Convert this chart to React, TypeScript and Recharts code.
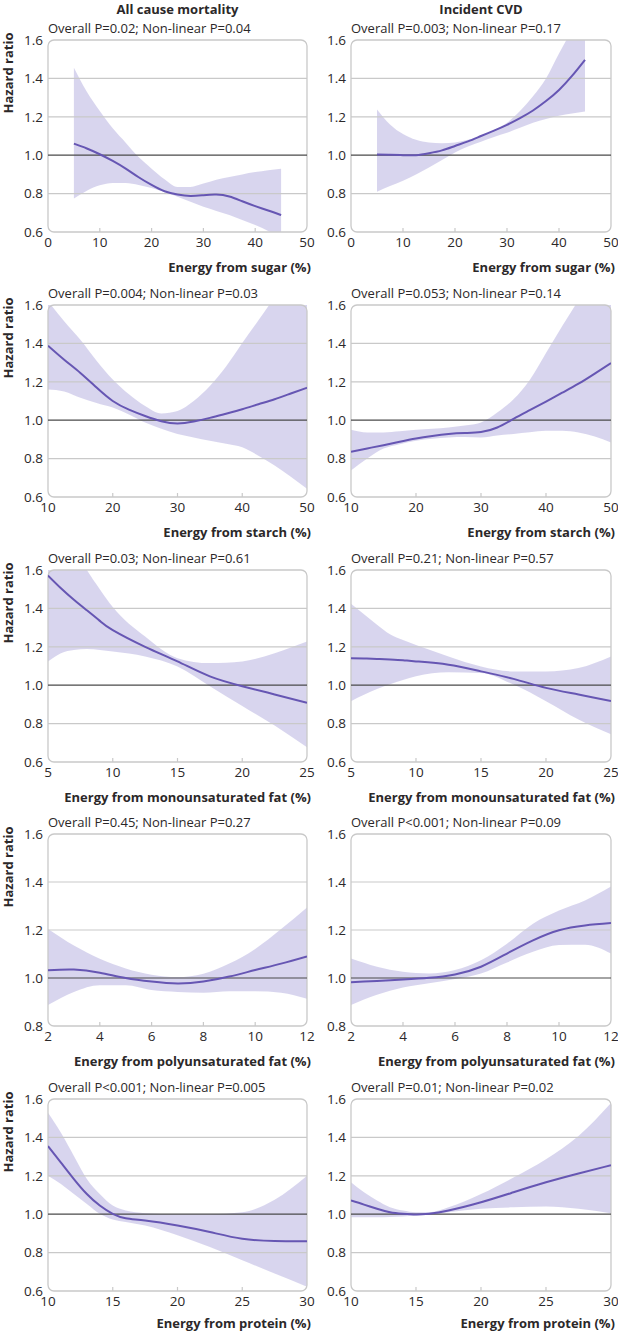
import { ComposedChart, Area, Line, XAxis, YAxis, ReferenceLine, ReferenceArea } from 'recharts';

// shared x grids (energy %)
const sugarX = [5, 7.5, 10, 12.5, 15, 17.5, 20, 22.5, 25, 27.5, 30, 32.5, 35, 37.5, 40, 42.5, 45];
const starchX = [10, 12.5, 15, 17.5, 20, 22.5, 25, 27.5, 30, 32.5, 35, 37.5, 40, 42.5, 45, 47.5, 50];
const mufaX = [5, 6, 7, 8, 9, 10, 12.5, 15, 17.5, 20, 22.5, 25];
const pufaX = [2, 3, 4, 5, 6, 7, 8, 9, 10, 11, 12];
const proteinX = [10, 11, 12, 13, 14, 15, 16, 17.5, 20, 22.5, 25, 27.5, 30];

// all cause mortality
const mortSugarHr = [1.06, 1.035, 1.005, 0.97, 0.93, 0.885, 0.845, 0.812, 0.795, 0.788, 0.792, 0.795, 0.785, 0.76, 0.735, 0.712, 0.688];
const mortSugarLo = [0.774, 0.815, 0.843, 0.855, 0.855, 0.845, 0.829, 0.808, 0.783, 0.757, 0.731, 0.71, 0.688, 0.662, 0.636, 0.605, 0.57];
const mortSugarHi = [1.455, 1.33, 1.23, 1.14, 1.065, 0.99, 0.93, 0.875, 0.835, 0.835, 0.852, 0.872, 0.886, 0.9, 0.912, 0.922, 0.93];

const mortStarchHr = [1.388, 1.315, 1.246, 1.17, 1.1, 1.055, 1.022, 0.995, 0.983, 0.993, 1.012, 1.034, 1.057, 1.083, 1.109, 1.139, 1.169];
const mortStarchLo = [1.16, 1.15, 1.117, 1.09, 1.066, 1.03, 0.988, 0.955, 0.928, 0.91, 0.893, 0.877, 0.859, 0.815, 0.764, 0.705, 0.643];
const mortStarchHi = [1.62, 1.515, 1.419, 1.31, 1.212, 1.135, 1.074, 1.035, 1.048, 1.1, 1.178, 1.28, 1.402, 1.52, 1.643, 1.78, 1.92];

const mortMufaHr = [1.571, 1.505, 1.445, 1.39, 1.335, 1.287, 1.2, 1.124, 1.046, 0.995, 0.952, 0.909];
const mortMufaLo = [1.124, 1.167, 1.183, 1.188, 1.183, 1.175, 1.15, 1.098, 0.995, 0.892, 0.79, 0.677];
const mortMufaHi = [1.95, 1.82, 1.72, 1.6, 1.5, 1.407, 1.253, 1.141, 1.115, 1.124, 1.167, 1.227];

const mortPufaHr = [1.032, 1.035, 1.022, 1.0, 0.985, 0.977, 0.985, 1.006, 1.033, 1.06, 1.09];
const mortPufaLo = [0.887, 0.942, 0.97, 0.97, 0.95, 0.942, 0.939, 0.945, 0.945, 0.939, 0.914];
const mortPufaHi = [1.204, 1.135, 1.08, 1.04, 1.014, 1.004, 1.018, 1.06, 1.121, 1.204, 1.294];

const mortProteinHr = [1.355, 1.269, 1.183, 1.105, 1.045, 1.002, 0.979, 0.967, 0.941, 0.907, 0.872, 0.86, 0.859];
const mortProteinLo = [1.2, 1.157, 1.105, 1.053, 1.002, 0.972, 0.959, 0.941, 0.89, 0.829, 0.76, 0.691, 0.622];
const mortProteinHi = [1.528, 1.424, 1.303, 1.183, 1.105, 1.045, 1.019, 1.005, 1.0, 1.0, 1.01, 1.075, 1.2];

// incident CVD
const cvdSugarHr = [1.003, 1.002, 1.0, 1.0, 1.01, 1.025, 1.048, 1.072, 1.1, 1.128, 1.158, 1.193, 1.233, 1.282, 1.34, 1.413, 1.497];
const cvdSugarLo = [0.81, 0.84, 0.867, 0.9, 0.936, 0.975, 1.014, 1.045, 1.07, 1.095, 1.117, 1.143, 1.169, 1.188, 1.205, 1.217, 1.228];
const cvdSugarHi = [1.238, 1.16, 1.11, 1.08, 1.066, 1.062, 1.066, 1.08, 1.1, 1.13, 1.169, 1.23, 1.307, 1.4, 1.53, 1.65, 1.75];

const cvdStarchHr = [0.836, 0.853, 0.87, 0.888, 0.905, 0.918, 0.928, 0.933, 0.938, 0.962, 1.007, 1.052, 1.097, 1.143, 1.19, 1.243, 1.298];
const cvdStarchLo = [0.738, 0.8, 0.852, 0.875, 0.893, 0.903, 0.91, 0.912, 0.91, 0.92, 0.928, 0.937, 0.945, 0.945, 0.936, 0.915, 0.884];
const cvdStarchHi = [0.95, 0.936, 0.936, 0.942, 0.95, 0.956, 0.962, 0.972, 0.988, 1.04, 1.109, 1.21, 1.35, 1.49, 1.626, 1.77, 1.92];

const cvdMufaHr = [1.141, 1.139, 1.137, 1.134, 1.13, 1.124, 1.107, 1.072, 1.033, 0.986, 0.952, 0.917];
const cvdMufaLo = [0.917, 0.95, 0.98, 1.005, 1.027, 1.046, 1.067, 1.064, 1.003, 0.917, 0.822, 0.745];
const cvdMufaHi = [1.424, 1.37, 1.315, 1.265, 1.235, 1.209, 1.15, 1.098, 1.072, 1.072, 1.09, 1.15];

const cvdPufaHr = [0.982, 0.988, 0.994, 1.001, 1.015, 1.047, 1.102, 1.157, 1.199, 1.219, 1.229];
const cvdPufaLo = [0.888, 0.93, 0.96, 0.978, 0.996, 1.019, 1.065, 1.109, 1.137, 1.139, 1.102];
const cvdPufaHi = [1.081, 1.047, 1.026, 1.019, 1.033, 1.074, 1.143, 1.226, 1.281, 1.323, 1.381];

const cvdProteinHr = [1.071, 1.05, 1.028, 1.01, 1.002, 0.998, 1.002, 1.019, 1.062, 1.114, 1.166, 1.212, 1.255];
const cvdProteinLo = [0.984, 0.984, 0.984, 0.986, 0.988, 0.993, 0.998, 1.01, 1.028, 1.036, 1.04, 1.028, 1.005];
const cvdProteinHi = [1.166, 1.114, 1.071, 1.036, 1.019, 1.01, 1.01, 1.036, 1.105, 1.191, 1.286, 1.407, 1.579];

// axis ticks
const sugarTicks = [0, 10, 20, 30, 40, 50];
const starchTicks = [10, 20, 30, 40, 50];
const mufaTicks = [5, 10, 15, 20, 25];
const pufaTicks = [2, 4, 6, 8, 10, 12];
const proteinTicks = [10, 15, 20, 25, 30];
const hrTicks = [0.6, 0.8, 1.0, 1.2, 1.4, 1.6];
const hrTicksPufa = [0.8, 1.0, 1.2, 1.4, 1.6];

const columnTitles = ['All cause mortality', 'Incident CVD'];

const panels = [
  { row: 0, col: 0, x: sugarX, hr: mortSugarHr, lo: mortSugarLo, hi: mortSugarHi, xTicks: sugarTicks, yTicks: hrTicks, p: 'Overall P=0.02; Non-linear P=0.04', title: 'Energy from sugar (%)' },
  { row: 0, col: 1, x: sugarX, hr: cvdSugarHr, lo: cvdSugarLo, hi: cvdSugarHi, xTicks: sugarTicks, yTicks: hrTicks, p: 'Overall P=0.003; Non-linear P=0.17', title: 'Energy from sugar (%)' },
  { row: 1, col: 0, x: starchX, hr: mortStarchHr, lo: mortStarchLo, hi: mortStarchHi, xTicks: starchTicks, yTicks: hrTicks, p: 'Overall P=0.004; Non-linear P=0.03', title: 'Energy from starch (%)' },
  { row: 1, col: 1, x: starchX, hr: cvdStarchHr, lo: cvdStarchLo, hi: cvdStarchHi, xTicks: starchTicks, yTicks: hrTicks, p: 'Overall P=0.053; Non-linear P=0.14', title: 'Energy from starch (%)' },
  { row: 2, col: 0, x: mufaX, hr: mortMufaHr, lo: mortMufaLo, hi: mortMufaHi, xTicks: mufaTicks, yTicks: hrTicks, p: 'Overall P=0.03; Non-linear P=0.61', title: 'Energy from monounsaturated fat (%)' },
  { row: 2, col: 1, x: mufaX, hr: cvdMufaHr, lo: cvdMufaLo, hi: cvdMufaHi, xTicks: mufaTicks, yTicks: hrTicks, p: 'Overall P=0.21; Non-linear P=0.57', title: 'Energy from monounsaturated fat (%)' },
  { row: 3, col: 0, x: pufaX, hr: mortPufaHr, lo: mortPufaLo, hi: mortPufaHi, xTicks: pufaTicks, yTicks: hrTicksPufa, p: 'Overall P=0.45; Non-linear P=0.27', title: 'Energy from polyunsaturated fat (%)' },
  { row: 3, col: 1, x: pufaX, hr: cvdPufaHr, lo: cvdPufaLo, hi: cvdPufaHi, xTicks: pufaTicks, yTicks: hrTicksPufa, p: 'Overall P<0.001; Non-linear P=0.09', title: 'Energy from polyunsaturated fat (%)' },
  { row: 4, col: 0, x: proteinX, hr: mortProteinHr, lo: mortProteinLo, hi: mortProteinHi, xTicks: proteinTicks, yTicks: hrTicks, p: 'Overall P<0.001; Non-linear P=0.005', title: 'Energy from protein (%)' },
  { row: 4, col: 1, x: proteinX, hr: cvdProteinHr, lo: cvdProteinLo, hi: cvdProteinHi, xTicks: proteinTicks, yTicks: hrTicks, p: 'Overall P=0.01; Non-linear P=0.02', title: 'Energy from protein (%)' },
];

const FONT = '"Open Sans", "Noto Sans", sans-serif';
const TEXT = '#2b2829';
const GRID = '#c9c9c9';
const LINE = '#6656b3';
const BAND = '#d4d0ec';

// plot area (page coords) per column
const cols = [
  { left: 0, width: 320, ml: 16, mr: 13, plotL: 48, plotR: 307 },
  { left: 310, width: 308, ml: 9, mr: 7, plotL: 351, plotR: 611 },
];
const rowTop = (r: number) => Math.round(r * 264.75);

const XTick = (props: any) => {
  const { x, y, payload, first, last } = props;
  const v = payload.value;
  return (
    <g>
      {v !== first && v !== last && (
        <line x1={x} x2={x} y1={y} y2={y - 4} stroke={GRID} strokeWidth={1.2} />
      )}
      <text x={x} y={y + 15} textAnchor="middle" fontSize={13.5} fill={TEXT} fontFamily={FONT}>
        {v}
      </text>
    </g>
  );
};

const Panel = ({ spec }: { spec: any }) => {
  const c = cols[spec.col];
  const top = rowTop(spec.row);
  const data = spec.x.map((v: number, i: number) => ({ x: v, hr: spec.hr[i], band: [spec.lo[i], spec.hi[i]] }));
  const xMin = spec.xTicks[0];
  const xMax = spec.xTicks[spec.xTicks.length - 1];
  const yMin = spec.yTicks[0];
  const yMax = spec.yTicks[spec.yTicks.length - 1];
  const grid = spec.yTicks.filter((t: number) => t !== yMin && t !== yMax && t !== 1.0);

  return (
    <>
      <div style={{ position: 'absolute', left: c.plotL, top: top + 19, fontSize: 13, color: TEXT, whiteSpace: 'nowrap', lineHeight: '18px' }}>
        {spec.p}
      </div>
      <div style={{ position: 'absolute', left: c.left, top }}>
        <ComposedChart width={c.width} height={265} data={data} margin={{ top: 40, right: c.mr, bottom: 0, left: c.ml }}>
          <XAxis
            type="number"
            dataKey="x"
            domain={[xMin, xMax]}
            ticks={spec.xTicks}
            allowDataOverflow
            axisLine={false}
            tickLine={false}
            tickSize={0}
            tickMargin={0}
            height={33}
            interval={0}
            tick={<XTick first={xMin} last={xMax} />}
          />
          <YAxis
            type="number"
            domain={[yMin, yMax]}
            ticks={spec.yTicks}
            allowDataOverflow
            axisLine={false}
            tickLine={false}
            tickSize={0}
            tickMargin={5}
            width={32}
            interval={0}
            tickFormatter={(v: number) => v.toFixed(1)}
            tick={{ fontSize: 13.5, fill: TEXT, fontFamily: FONT }}
          />
          {grid.map((g: number) => (
            <ReferenceLine key={g} y={g} stroke={GRID} strokeWidth={1.2} />
          ))}
          <ReferenceLine y={1.0} stroke="#4a4a4a" strokeWidth={1.2} />
          <Area type="monotone" dataKey="band" stroke="none" fill={BAND} fillOpacity={0.9} isAnimationActive={false} />
          <Line type="natural" dataKey="hr" stroke={LINE} strokeWidth={2} dot={false} isAnimationActive={false} />
          <ReferenceArea x1={xMin} x2={xMax} y1={yMin} y2={yMax} fill="none" fillOpacity={0} stroke={GRID} strokeWidth={1.3} radius={6} />
        </ComposedChart>
      </div>
      <div style={{ position: 'absolute', right: 618 - c.plotR - 4, top: Math.min(top + 258, 1314), fontSize: 13, fontWeight: 700, color: TEXT, whiteSpace: 'nowrap', lineHeight: '18px' }}>
        {spec.title}
      </div>
      {spec.col === 0 && (
        <div style={{ position: 'absolute', left: -42, top: top + 65, width: 100, height: 16, lineHeight: '16px', textAlign: 'center', transform: 'rotate(-90deg)', fontSize: 13, fontWeight: 700, color: TEXT }}>
          Hazard ratio
        </div>
      )}
    </>
  );
};

export default function App() {
  return (
    <div style={{ position: 'absolute', left: 0, top: 0, width: 618, height: 1333, background: '#fff', fontFamily: FONT, overflow: 'hidden' }}>
      {columnTitles.map((t, i) => (
        <div key={t} style={{ position: 'absolute', left: cols[i].plotL, width: cols[i].plotR - cols[i].plotL, top: 0, textAlign: 'center', fontSize: 13, fontWeight: 700, color: TEXT, lineHeight: '18px' }}>
          {t}
        </div>
      ))}
      {panels.map((p, i) => (
        <Panel key={i} spec={p} />
      ))}
    </div>
  );
}
